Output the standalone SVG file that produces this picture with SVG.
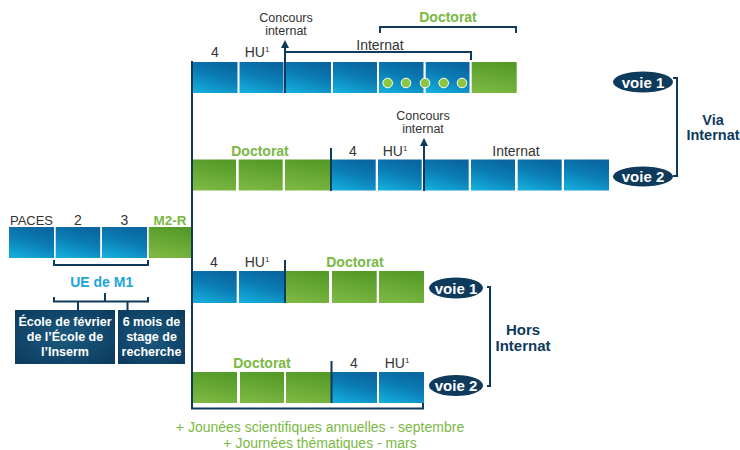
<svg xmlns="http://www.w3.org/2000/svg" width="740" height="450" viewBox="0 0 740 450">
<defs>
<linearGradient id="gb" x1="0.2" y1="1" x2="0.6" y2="0">
<stop offset="0" stop-color="#14addb"/>
<stop offset="0.55" stop-color="#0b7db5"/>
<stop offset="1" stop-color="#0a66a0"/>
</linearGradient>
<linearGradient id="gg" x1="0.3" y1="1" x2="0.6" y2="0">
<stop offset="0" stop-color="#7db843"/>
<stop offset="1" stop-color="#549a27"/>
</linearGradient>
<radialGradient id="gn" cx="0.5" cy="0.5" r="0.7">
<stop offset="0" stop-color="#1c5a80"/>
<stop offset="1" stop-color="#0b3a5d"/>
</radialGradient>
<marker id="ah" viewBox="0 0 8 8" refX="4" refY="4" markerWidth="8" markerHeight="8" markerUnits="userSpaceOnUse" orient="auto">
<path d="M0,0 L8,4 L0,8 Z" fill="#0e3a5c"/>
</marker>
<style>
.b{fill:url(#gb)}
.g{fill:url(#gg)}
.t{font-family:"Liberation Sans",Arial,sans-serif;font-size:14px;fill:#333;text-anchor:middle}
.sm{font-size:13px}
.cc{font-size:12.5px}
.dg{font-family:"Liberation Sans",Arial,sans-serif;font-size:14px;font-weight:bold;fill:#7ab844;text-anchor:middle}
.w{font-family:"Liberation Sans",Arial,sans-serif;font-weight:bold;fill:#fff;text-anchor:middle}
.nv{font-family:"Liberation Sans",Arial,sans-serif;font-size:14.5px;font-weight:bold;fill:#0e3a5c;text-anchor:middle}
.ln{stroke:#0e3a5c;stroke-width:2;fill:none}
.dot{fill:#8cc63f;stroke:#fff;stroke-width:1}
.sup{font-size:8px}
</style>
</defs>

<g id="paces">
<rect class="b" x="9" y="227" width="45" height="31"/>
<rect class="b" x="55.7" y="227" width="44.5" height="31"/>
<rect class="b" x="102" y="227" width="45" height="31"/>
<rect class="g" x="148.7" y="227" width="42.5" height="31"/>
<text class="t sm" x="31.5" y="225">PACES</text>
<text class="t" x="78" y="225">2</text>
<text class="t" x="124.5" y="225">3</text>
<text class="dg" x="170" y="225" style="font-size:13.5px">M2-R</text>
</g>

<g id="ue">
<text x="101.7" y="287" style="font-family:'Liberation Sans',Arial,sans-serif;font-size:14px;font-weight:bold;fill:#1ba5d8;text-anchor:middle">UE de M1</text>
</g>

<g id="box1">
<rect x="15" y="310" width="100" height="54" fill="url(#gn)"/>
<text class="w" x="65" y="326" style="font-size:12.5px">École de février</text>
<text class="w" x="65" y="340.7" style="font-size:12.5px">de l’École de</text>
<text class="w" x="65" y="356" style="font-size:12.5px">l’Inserm</text>
</g>
<g id="box2">
<rect x="118" y="310" width="67" height="54" fill="url(#gn)"/>
<text class="w" x="151.5" y="326" style="font-size:12.5px">6 mois de</text>
<text class="w" x="151.5" y="340.7" style="font-size:12.5px">stage de</text>
<text class="w" x="151.5" y="356" style="font-size:12.5px">recherche</text>
</g>

<g id="row1">
<rect class="b" x="192" y="62" width="45.5" height="31"/>
<rect class="b" x="239.5" y="62" width="44" height="31"/>
<rect class="b" x="285.7" y="62" width="45.3" height="31"/>
<rect class="b" x="333" y="62" width="44" height="31"/>
<rect class="b" x="379" y="62" width="44.5" height="31"/>
<rect class="b" x="425.7" y="62" width="43.8" height="31"/>
<rect class="g" x="471.7" y="62" width="45" height="31"/>
<circle class="dot" cx="387.7" cy="83" r="4.8"/>
<circle class="dot" cx="406" cy="83" r="4.8"/>
<circle class="dot" cx="425" cy="83" r="4.8"/>
<circle class="dot" cx="443.7" cy="83" r="4.8"/>
<circle class="dot" cx="462" cy="83" r="4.8"/>
<text class="t" x="215" y="57">4</text>
<text class="t" x="257" y="57">HU<tspan class="sup" dy="-5">1</tspan></text>
<text class="t" x="380" y="49.5">Internat</text>
<text class="t cc" x="286" y="21.5">Concours</text>
<text class="t cc" x="286" y="35">internat</text>
<text class="dg" x="448" y="22">Doctorat</text>
</g>

<g id="row2">
<rect class="g" x="192" y="159.5" width="44" height="31"/>
<rect class="g" x="238.7" y="159.5" width="44" height="31"/>
<rect class="g" x="285" y="159.5" width="46" height="31"/>
<rect class="b" x="331" y="159.5" width="44.7" height="31"/>
<rect class="b" x="378" y="159.5" width="43.7" height="31"/>
<rect class="b" x="424" y="159.5" width="44.7" height="31"/>
<rect class="b" x="471" y="159.5" width="44" height="31"/>
<rect class="b" x="517.7" y="159.5" width="44" height="31"/>
<rect class="b" x="564" y="159.5" width="45" height="31"/>
<text class="dg" x="260" y="156">Doctorat</text>
<text class="t" x="353" y="156">4</text>
<text class="t" x="395" y="156">HU<tspan class="sup" dy="-5">1</tspan></text>
<text class="t" x="516" y="156">Internat</text>
<text class="t cc" x="423" y="119.5">Concours</text>
<text class="t cc" x="423" y="133">internat</text>
</g>

<g id="row3">
<rect class="b" x="192" y="271" width="44.7" height="32"/>
<rect class="b" x="239" y="271" width="46" height="32"/>
<rect class="g" x="285.7" y="271" width="43.3" height="32"/>
<rect class="g" x="332" y="271" width="44.7" height="32"/>
<rect class="g" x="379" y="271" width="45" height="32"/>
<text class="t" x="214" y="267">4</text>
<text class="t" x="257" y="267">HU<tspan class="sup" dy="-5">1</tspan></text>
<text class="dg" x="355" y="267">Doctorat</text>
</g>

<g id="row4">
<rect class="g" x="192" y="372" width="45" height="31"/>
<rect class="g" x="240" y="372" width="44" height="31"/>
<rect class="g" x="286" y="372" width="46" height="31"/>
<rect class="b" x="332" y="372" width="45" height="31"/>
<rect class="b" x="379" y="372" width="45" height="31"/>
<text class="dg" x="262" y="368">Doctorat</text>
<text class="t" x="354" y="368">4</text>
<text class="t" x="397" y="368">HU<tspan class="sup" dy="-5">1</tspan></text>
</g>

<g id="via">
<ellipse cx="643" cy="82" rx="30" ry="10.5" fill="#0e3a5c"/>
<text class="w" x="643" y="87.5" style="font-size:15px">voie 1</text>
<ellipse cx="643" cy="176.5" rx="30" ry="10" fill="#0e3a5c"/>
<text class="w" x="643" y="182" style="font-size:15px">voie 2</text>
<text class="nv" x="713" y="124.5">Via</text>
<text class="nv" x="713" y="139.5">Internat</text>
</g>

<g id="hors">
<ellipse cx="456" cy="288" rx="27" ry="10.5" fill="#0e3a5c"/>
<text class="w" x="456" y="293.5" style="font-size:15px">voie 1</text>
<ellipse cx="456" cy="385.5" rx="27" ry="10.5" fill="#0e3a5c"/>
<text class="w" x="456" y="391" style="font-size:15px">voie 2</text>
<text class="nv" x="523" y="335" style="font-size:15px">Hors</text>
<text class="nv" x="523" y="350.5" style="font-size:15px">Internat</text>
</g>

<g id="journees">
<text x="320" y="432" style="font-family:'Liberation Sans',Arial,sans-serif;font-size:14px;fill:#7ab844;text-anchor:middle">+ Jounées scientifiques annuelles - septembre</text>
<text x="320" y="448" style="font-family:'Liberation Sans',Arial,sans-serif;font-size:14px;fill:#7ab844;text-anchor:middle">+ Journées thématiques - mars</text>
</g>

<g id="connectors">
<path class="ln" d="M192,61 V404"/>
<path class="ln" d="M54,260 V265 H148 V260"/>
<path class="ln" d="M54,297 V301.5 H148 V297 M105,293 V301.5 M78,301.5 V310 M127.5,301.5 V310"/>
<path class="ln" d="M285,93 V44" marker-end="url(#ah)"/>
<path class="ln" d="M285,52 H471 V60"/>
<path class="ln" d="M380,33 V27 H516 V33"/>
<path class="ln" d="M331,148 V191"/>
<path class="ln" d="M424,191 V142" marker-end="url(#ah)"/>
<path class="ln" d="M285,260 V303"/>
<path class="ln" d="M331.5,361 V403"/>
<path class="ln" d="M192,403 V408.5 H423 V403"/>
<path class="ln" d="M673,78 H677 V176 H673"/>
<path class="ln" d="M487,287 H490 V386 H487"/>
</g>
</svg>
